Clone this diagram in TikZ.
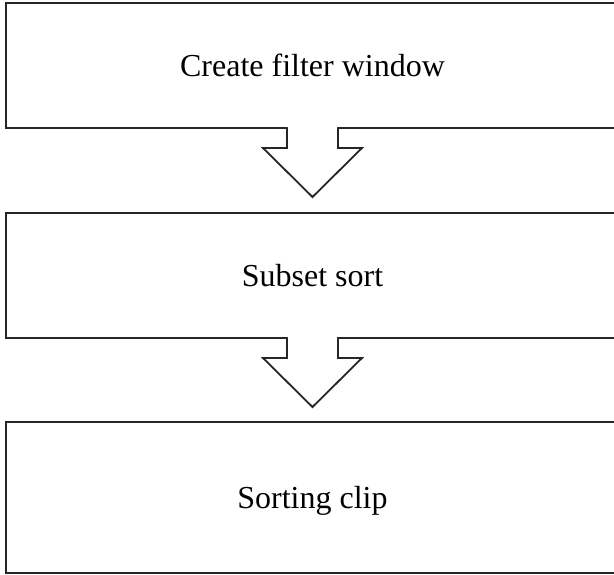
\documentclass[tikz,border=0pt]{standalone}
\usepackage{fontspec}
\setmainfont{Liberation Serif}
\usetikzlibrary{positioning, calc}

\begin{document}
\begin{tikzpicture}[x=1pt, y=1pt,
	stepbox/.style={draw=black!85, line width=2pt, minimum width=614pt, minimum height=125pt,
		inner sep=0pt, outer sep=0pt, text height=23pt, text depth=0pt,
		font=\fontsize{32}{38}\selectfont},
	flowarrow/.style={draw=black!85, line width=1.8pt, fill=white, line join=miter}]
	% fix the picture size
	\useasboundingbox (0,0) rectangle (614,575);
	\clip (0,0) rectangle (614,575);
	
	% draw boxes
	\node[stepbox] (create) at (312.5,509.5) {Create filter window};
	\node[stepbox, below=85pt of create] (subset) {Subset sort};
	\node[stepbox, below=84pt of subset, minimum height=151pt] (clip) {Sorting clip};
	
	% draw block arrows
	\foreach \a in {create,subset}{
		\fill[white] ($(\a.south)+(-24.5,1.3)$) rectangle ($(\a.south)+(24.5,-1.3)$);
		\draw[flowarrow] ($(\a.south)+(-25.5,0)$) -- ++(0,-20) -- ++(-24,0)
		-- ($(\a.south)+(0,-69)$) -- ($(\a.south)+(49.5,-20)$) -- ++(-24,0)
		-- ($(\a.south)+(25.5,0)$);
	}
	
\end{tikzpicture}
\end{document}
